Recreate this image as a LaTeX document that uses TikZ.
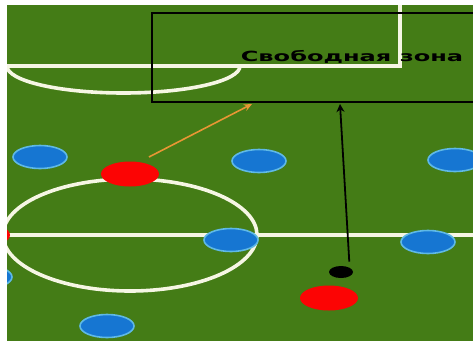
\documentclass[tikz,border=0pt]{standalone}
\usepackage{fontspec}
\setsansfont{DejaVu Sans}
\usetikzlibrary{shapes.geometric,arrows.meta}

\definecolor{pitch}{RGB}{68,124,22}
\definecolor{chalk}{RGB}{246,246,228}
\definecolor{teamblue}{RGB}{22,118,210}
\definecolor{rimblue}{RGB}{95,185,230}
\definecolor{teamred}{RGB}{252,4,4}
\definecolor{passorange}{RGB}{232,150,52}

\tikzset{
  bluep/.style={ellipse, fill=teamblue, draw=rimblue, line width=1.6pt,
    minimum width=54pt, minimum height=23pt, inner sep=0pt},
  redp/.style={ellipse, fill=teamred, minimum width=58pt, minimum height=25pt, inner sep=0pt},
  ballp/.style={ellipse, fill=black, minimum width=24pt, minimum height=12pt, inner sep=0pt},
  line/.style={chalk, line width=3.6pt},
}

\begin{document}
\begin{tikzpicture}[x=1pt,y=-1pt]
    \useasboundingbox (0,0) rectangle (473,343);

    % Grass
    \fill[pitch] (7,5) rectangle (473,341);

    \begin{scope}
    \clip (7,5) rectangle (473,341);

    % Penalty box and arc
    \draw[line] (0,66) -- (400,66) -- (400,0);
    \draw[line] (240,66) arc[start angle=0, end angle=-180, x radius=116.5, y radius=-27];

    % Halfway line and centre circle
    \draw[line] (0,235) -- (480,235);
    \draw[line] (130,235) ellipse[x radius=127, y radius=56];

    % Free zone
    \draw[black, line width=1.3pt] (152,13) rectangle (480,102);
    \node[font=\sffamily\bfseries\fontsize{14}{14}\selectfont, inner sep=0pt] (zone) at (352,57)
      {\scalebox{1.72}[1]{Свободная зона}};

    % Players
    \node[bluep] (b1) at (40,157) {};
    \node[bluep] (b2) at (259,161) {};
    \node[bluep] (b3) at (455,160) {};
    \node[bluep] (b4) at (231,240) {};
    \node[bluep] (b5) at (428,242) {};
    \node[bluep] (b6) at (107,326) {};
    \node[bluep] (b7) at (-15,277) {};
    \node[redp] (r1) at (130,174) {};
    \node[redp] (r2) at (329,298) {};
    \node[redp] (r3) at (-19,235) {};
    \node[ballp] (ball) at (341,272) {};
    \end{scope}

    % Moves
    \coordinate (pass from) at (149,157);
    \coordinate (pass to) at (252,104);
    \coordinate (run to) at (340,104);
    \draw[passorange, line width=1.6pt, -{Stealth[length=8pt,width=7pt]}] (pass from) -- (pass to);
    \draw[black, line width=1.8pt, -{Stealth[length=8pt,width=8pt]}, shorten <=6pt] (ball.north east) -- (run to);
\end{tikzpicture}
\end{document}
